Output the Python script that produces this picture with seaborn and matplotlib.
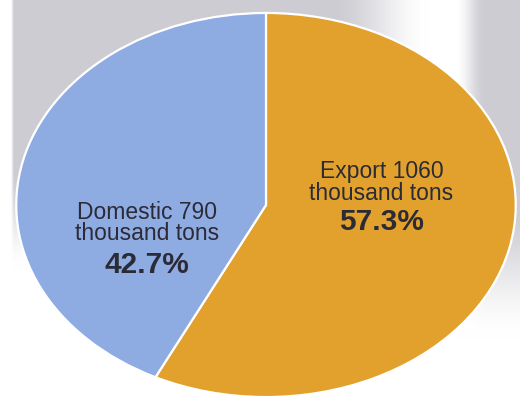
import numpy as np
import matplotlib
matplotlib.use("Agg")
import matplotlib.pyplot as plt
import seaborn as sns

# Shipment split, thousand tons
categories = ["Export", "Domestic"]
values = [1060, 790]
unit = "thousand tons"
colors = ["#e1a12c", "#8eabe2"]

sns.set_theme(style="white")
plt.rcParams["font.family"] = ["Liberation Sans", "DejaVu Sans"]

W, H = 520, 404
fig = plt.figure(figsize=(W / 100, H / 100), dpi=100)
fig.patch.set_facecolor("white")

# Soft grey backdrop behind the pie
bg = fig.add_axes([0, 0, 1, 1])
yy, xx = np.mgrid[0:H, 0:W].astype(float)

def smooth(v, a, b):
    t = np.clip((v - a) / (b - a), 0, 1)
    return t * t * (3 - 2 * t)

left = smooth(xx, 10, 14) * (1 - smooth(xx, 330, 430)) * (1 - smooth(yy, 170, 270))
right = smooth(xx, 455, 485) * (1 - smooth(yy, 200, 340))
mask = np.clip(left + right, 0, 1)
grey = np.array([205, 204, 210]) / 255.0
img = np.ones((H, W, 3)) * (1 - mask[..., None]) + grey * mask[..., None]
bg.imshow(img, extent=[0, W, H, 0], aspect="auto", interpolation="bilinear")
bg.set_axis_off()

# Elliptical pie: centre (266, 205) px, semi-axes 251 x 193 px
cx, cy, a, b = 266, 205, 251, 193
ax = fig.add_axes([(cx - a) / W, (H - cy - b) / H, 2 * a / W, 2 * b / H])
ax.pie(values, colors=colors, startangle=90, counterclock=False,
       wedgeprops=dict(edgecolor="white", linewidth=1.6))
ax.set_aspect("auto")
ax.set_xlim(-1.005, 1.005)
ax.set_ylim(-1.005, 1.005)
ax.set_axis_off()

total = sum(values)
pcts = [v / total * 100 for v in values]
text_color = "#2b2b36"
# (x, y of the two-line caption, y of the percentage)
label_pos = {"Export": (0.462, 0.116, -0.088),
             "Domestic": (-0.478, -0.093, -0.311)}
for cat, val, pct in zip(categories, values, pcts):
    x, y_cap, y_pct = label_pos[cat]
    ax.text(x, y_cap, f"{cat} {val}\n{unit}", ha="center", va="center",
            fontsize=16.5, color=text_color, linespacing=0.92)
    ax.text(x, y_pct, f"{pct:.1f}%", ha="center", va="center",
            fontsize=21.5, fontweight="heavy", color=text_color)

fig.savefig("out.png", dpi=100)
